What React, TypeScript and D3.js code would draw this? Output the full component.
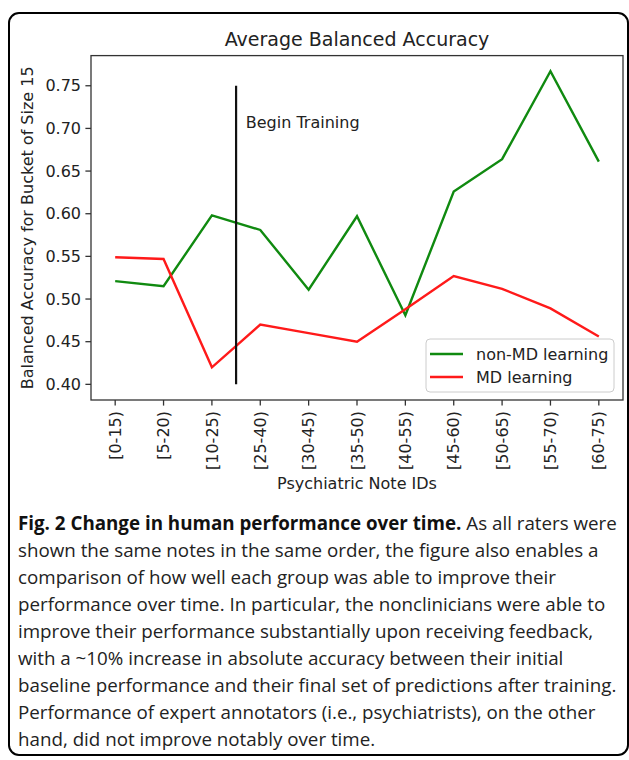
import React, { useLayoutEffect, useRef, useState } from "react";
import * as d3 from "d3";

const categories = ["[0-15)", "[5-20)", "[10-25)", "[25-40)", "[30-45)", "[35-50)", "[40-55)", "[45-60)", "[50-65)", "[55-70)", "[60-75)"];
const nonMD = [0.521, 0.515, 0.598, 0.581, 0.511, 0.597, 0.481, 0.626, 0.664, 0.767, 0.661];
const MD = [0.549, 0.547, 0.42, 0.47, 0.46, 0.45, 0.488, 0.527, 0.512, 0.489, 0.456];
const yTicks = [0.4, 0.45, 0.5, 0.55, 0.6, 0.65, 0.7, 0.75];
const trainingAt = 2.5;
const trainingRange = [0.4, 0.75];

const captionBold = "Fig. 2 Change in human performance over time.";
const captionLines = [
  " As all raters were",
  "shown the same notes in the same order, the figure also enables a",
  "comparison of how well each group was able to improve their",
  "performance over time. In particular, the nonclinicians were able to",
  "improve their performance substantially upon receiving feedback,",
  "with a ~10% increase in absolute accuracy between their initial",
  "baseline performance and their final set of predictions after training.",
  "Performance of expert annotators (i.e., psychiatrists), on the other",
  "hand, did not improve notably over time.",
];

const W = 629, H = 760;
const m = { left: 91, right: 623, top: 55.6, bottom: 400 };
const font = "DejaVu Sans";
const capFont = "Open Sans";
const capLeft = 18, capRight = 617;

export default function App() {
  const capRef = useRef<SVGGElement>(null);
  const [k, setK] = useState(1);

  useLayoutEffect(() => {
    let maxW = 0;
    capRef.current.querySelectorAll("text").forEach((t) => {
      maxW = Math.max(maxW, t.getComputedTextLength());
    });
    if (maxW > 0) setK((capRight - capLeft) / maxW);
  }, []);

  const x = d3.scaleLinear().domain([-0.5, categories.length - 0.5]).range([m.left, m.right]);
  const all = [...nonMD, ...MD, ...trainingRange];
  const lo = d3.min(all), hi = d3.max(all);
  const pad = (hi - lo) * 0.05;
  const y = d3.scaleLinear().domain([lo - pad, hi + pad]).range([m.bottom, m.top]);
  const line = d3.line<number>().x((d, i) => x(i)).y((d) => y(d));
  const cx = (m.left + m.right) / 2;
  const cy = (m.top + m.bottom) / 2;
  const tc = "#222";
  const green = "#108a10", red = "#ff1a1a";

  return (
    <svg width={W} height={H} style={{ position: "absolute", left: 0, top: 0, background: "#fff" }}>
      <rect x={9} y={13} width={619} height={742} rx={10} fill="none" stroke="#000" strokeWidth={2} />

      <text x={cx} y={46} textAnchor="middle" fontFamily={font} fontSize={19} fill={tc}>Average Balanced Accuracy</text>

      {/* lines */}
      <path d={line(nonMD)} fill="none" stroke={green} strokeWidth={2.4} />
      <path d={line(MD)} fill="none" stroke={red} strokeWidth={2.4} />
      <line x1={x(trainingAt)} x2={x(trainingAt)} y1={y(trainingRange[0])} y2={y(trainingRange[1])} stroke="#111" strokeWidth={2.2} />
      <text x={x(2.7)} y={y(0.7)} fontFamily={font} fontSize={16} fill={tc}>Begin Training</text>

      {/* frame */}
      <rect x={m.left} y={m.top} width={m.right - m.left} height={m.bottom - m.top} fill="none" stroke="#333" strokeWidth={1.3} />

      {/* y axis */}
      {yTicks.map((t) => (
        <g key={t}>
          <line x1={m.left - 5.6} x2={m.left} y1={y(t)} y2={y(t)} stroke="#333" strokeWidth={1.3} />
          <text x={m.left - 10} y={y(t)} dy="0.35em" textAnchor="end" fontFamily={font} fontSize={16} fill={tc}>{d3.format(".2f")(t)}</text>
        </g>
      ))}
      <text transform={`translate(27,${cy}) rotate(-90)`} textAnchor="middle" dy="0.35em" fontFamily={font} fontSize={16} fill={tc}>
        Balanced Accuracy for Bucket of Size 15
      </text>

      {/* x axis */}
      {categories.map((c, i) => (
        <g key={c}>
          <line x1={x(i)} x2={x(i)} y1={m.bottom} y2={m.bottom + 5.6} stroke="#333" strokeWidth={1.3} />
          <text transform={`translate(${x(i)},${m.bottom + 11}) rotate(-90)`} textAnchor="end" dy="0.35em" fontFamily={font} fontSize={16} fill={tc}>{c}</text>
        </g>
      ))}
      <text x={cx} y={483} dy="0.35em" textAnchor="middle" fontFamily={font} fontSize={16} fill={tc}>Psychiatric Note IDs</text>

      {/* legend */}
      <rect x={426} y={339} width={188} height={53} rx={4} fill="#fff" fillOpacity={0.8} stroke="#ccc" />
      <line x1={430} x2={463} y1={354} y2={354} stroke={green} strokeWidth={2.4} />
      <text x={476} y={354} dy="0.35em" fontFamily={font} fontSize={16} fill={tc}>non-MD learning</text>
      <line x1={430} x2={463} y1={377} y2={377} stroke={red} strokeWidth={2.4} />
      <text x={476} y={377} dy="0.35em" fontFamily={font} fontSize={16} fill={tc}>MD learning</text>

      {/* caption */}
      <g ref={capRef} transform={`translate(${capLeft},0) scale(${k},1)`} fontFamily={capFont} fontSize={19} fill="#222">
        {captionLines.map((l, i) => (
          <text key={i} x={0} y={530 + i * 27} xmlSpace="preserve">
            {i === 0 && <tspan fontWeight={700} fill="#111">{captionBold}</tspan>}
            {l}
          </text>
        ))}
      </g>
    </svg>
  );
}
